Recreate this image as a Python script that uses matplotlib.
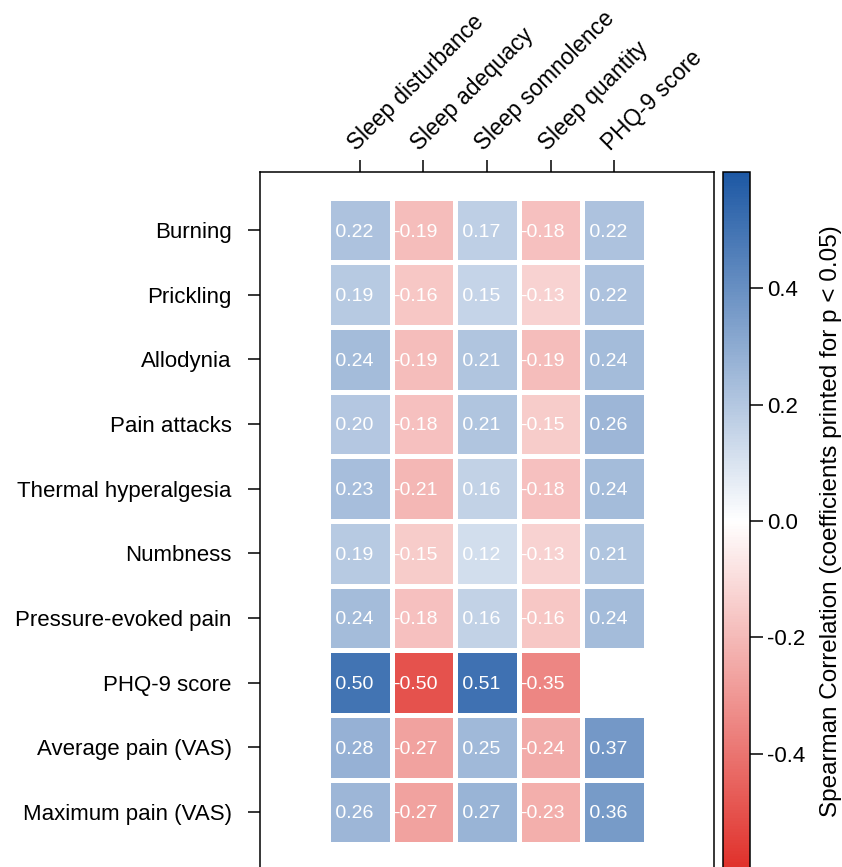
import numpy as np
import matplotlib
matplotlib.use('Agg')
import matplotlib.pyplot as plt
import matplotlib.transforms as mtransforms
from matplotlib.colors import LinearSegmentedColormap

plt.rcParams['font.family'] = ['Liberation Sans', 'DejaVu Sans']

rows = ['Burning', 'Prickling', 'Allodynia', 'Pain attacks', 'Thermal hyperalgesia',
        'Numbness', 'Pressure-evoked pain', 'PHQ-9 score', 'Average pain (VAS)',
        'Maximum pain (VAS)']
cols = ['Sleep disturbance', 'Sleep adequacy', 'Sleep somnolence', 'Sleep quantity', 'PHQ-9 score']

sleep_disturbance = [0.22, 0.19, 0.24, 0.20, 0.23, 0.19, 0.24, 0.50, 0.28, 0.26]
sleep_adequacy = [-0.19, -0.16, -0.19, -0.18, -0.21, -0.15, -0.18, -0.50, -0.27, -0.27]
sleep_somnolence = [0.17, 0.15, 0.21, 0.21, 0.16, 0.12, 0.16, 0.51, 0.25, 0.27]
sleep_quantity = [-0.18, -0.13, -0.19, -0.15, -0.18, -0.13, -0.16, -0.35, -0.24, -0.23]
phq9 = [0.22, 0.22, 0.24, 0.26, 0.24, 0.21, 0.24, np.nan, 0.37, 0.36]

cbar_ticks = [-0.4, -0.2, 0.0, 0.2, 0.4]

data = np.array([sleep_disturbance, sleep_adequacy, sleep_somnolence, sleep_quantity, phq9]).T
masked = np.ma.masked_invalid(data)

cmap = LinearSegmentedColormap.from_list('rdwb', ['#e0302a', '#ffffff', '#1d58a4'])
vmin, vmax = -0.6, 0.6

fig = plt.figure(figsize=(8.42, 8.67), dpi=100)
W, H = 842, 867
ax = fig.add_axes([260 / W, 1 - 870 / H, 454 / W, 698 / H])
cax = fig.add_axes([723 / W, 1 - 870 / H, 27 / W, 698 / H])

nr, nc = data.shape
mesh = ax.pcolormesh(np.arange(nc + 1) - 0.5, np.arange(nr + 1) - 0.5, masked,
                     cmap=cmap, vmin=vmin, vmax=vmax, edgecolors='white', linewidth=2.2)
ax.set_xlim(-1.57, nc - 1 + 1.57)
ax.set_ylim(nr - 1 + 0.9, -0.9)

for i in range(nr):
    for j in range(nc):
        v = data[i, j]
        if np.isnan(v):
            continue
        ax.text(j - 0.475, i + 0.03, f'{v:5.2f}', ha='left', va='center',
                color='white', fontsize=14)

ax.set_yticks(range(nr))
ax.set_yticklabels(rows, fontsize=16)
ax.xaxis.tick_top()
ax.set_xticks(range(nc))
ax.set_xticklabels(cols, fontsize=16.3, rotation=45, ha='left', va='bottom',
                   rotation_mode='anchor')
shift = mtransforms.ScaledTranslation(3 / 100, 2 / 100, fig.dpi_scale_trans)
for lab in ax.get_xticklabels():
    lab.set_transform(lab.get_transform() + shift)
ax.tick_params(axis='y', length=9, width=1.1, pad=11.5)
ax.tick_params(axis='x', length=9, width=1.1, pad=3)
for s in ax.spines.values():
    s.set_linewidth(1.1)

cb = fig.colorbar(mesh, cax=cax)
cb.set_ticks(cbar_ticks)
cb.set_ticklabels([f'{t:.1f}' for t in cbar_ticks])
cb.ax.tick_params(length=9, width=1.1, labelsize=16, pad=3)
cb.outline.set_linewidth(1.1)
cb.set_label('Spearman Correlation (coefficients printed for p < 0.05)', fontsize=17.5, labelpad=11)

fig.savefig('out.png', dpi=100)
